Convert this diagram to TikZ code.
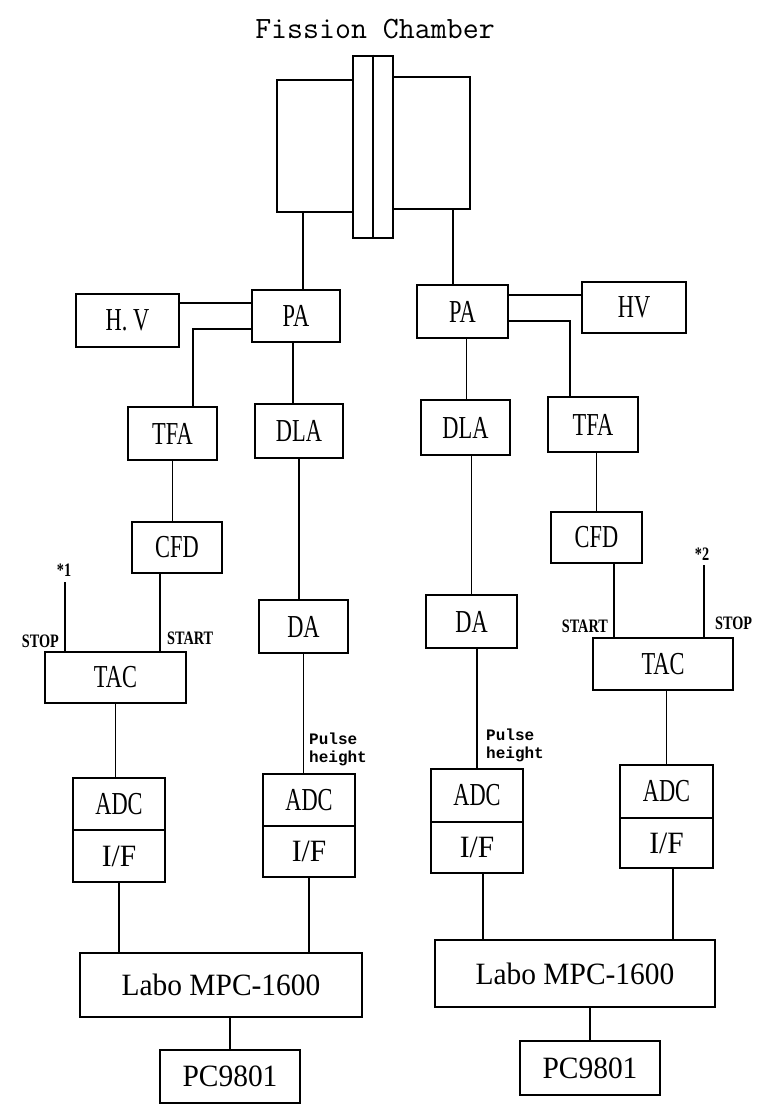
\documentclass[tikz,border=0pt]{standalone}
\usepackage{fontspec}
\setmainfont{Liberation Serif}
\newfontfamily\boxfnt[FakeStretch=0.7]{Liberation Serif}
\newfontfamily\widefnt[FakeStretch=0.95]{Liberation Serif}
\newfontfamily\smallfnt[FakeStretch=0.75]{Liberation Serif}
\newfontfamily\pulsefnt{Liberation Mono}
\begin{document}
\begin{tikzpicture}[x=1pt,y=-1pt,
  blk/.style={draw, line width=2.6pt, inner sep=0pt, fill=white,
    font={\boxfnt\fontsize{32}{34}\selectfont}},
  wide/.style={font={\widefnt\fontsize{31}{33}\selectfont}},
  bx/.style 2 args={minimum width=#1pt, minimum height=#2pt},
  conn/.style={line width=1.5pt},
  lbl/.style={inner sep=0pt, font={\smallfnt\bfseries\fontsize{19}{20}\selectfont}},
  plbl/.style={inner sep=0pt, align=left, font={\pulsefnt\bfseries\fontsize{16}{18}\selectfont}},
  ttl/.style={inner sep=0pt, font={\ttfamily\fontsize{31}{33}\selectfont}}
]
\useasboundingbox (0,0) rectangle (763,1106);

% title
\node[ttl] (title) at (375,29) {Fission Chamber};

% chamber
\node[blk, bx={76}{132}] (chL) at (315,146) {};
\node[blk, bx={78}{132}] (chR) at (431,143) {};
\node[blk, bx={40}{182}] (chC) at (373,147) {};
\draw[line width=2.6pt] (chC.north) -- (chC.south);

% left chain
\node[blk, bx={103}{53}] (hvL) at (127.5,320.5) {H. V};
\node[blk, bx={88}{52}] (paL) at (296,316) {PA};
\node[blk, bx={89}{53}] (tfaL) at (172.5,433.5) {TFA};
\node[blk, bx={88}{54}] (dlaL) at (299,431) {DLA};
\node[blk, bx={90}{51}] (cfdL) at (177,547.5) {CFD};
\node[blk, bx={89}{53}] (daL) at (303.5,626.5) {DA};
\node[blk, bx={141}{51}] (tacL) at (115.5,677.5) {TAC};
\node[blk, bx={92}{52}] (adc1) at (119,804) {ADC};
\node[blk, wide, bx={92}{52}] (if1) at (119,856) {I/F};
\node[blk, bx={92}{52}] (adc2) at (309,800) {ADC};
\node[blk, wide, bx={92}{51}] (if2) at (309,851.5) {I/F};
\node[blk, wide, bx={282}{64}] (laboL) at (221,985) {Labo MPC-1600};
\node[blk, wide, bx={140}{53}] (pcL) at (230,1076.5) {PC9801};

% right chain
\node[blk, bx={91}{53}] (paR) at (462.5,311.5) {PA};
\node[blk, bx={104}{51}] (hvR) at (634,307.5) {HV};
\node[blk, bx={89}{55}] (dlaR) at (465.5,427.5) {DLA};
\node[blk, bx={90}{55}] (tfaR) at (593,424.5) {TFA};
\node[blk, bx={91}{51}] (cfdR) at (596.5,537.5) {CFD};
\node[blk, bx={91}{53}] (daR) at (471.5,621.5) {DA};
\node[blk, bx={140}{52}] (tacR) at (663,664) {TAC};
\node[blk, bx={92}{53}] (adc3) at (477,795.5) {ADC};
\node[blk, wide, bx={92}{51}] (if3) at (477,847.5) {I/F};
\node[blk, bx={93}{53}] (adc4) at (666.5,791.5) {ADC};
\node[blk, wide, bx={93}{50}] (if4) at (666.5,843) {I/F};
\node[blk, wide, bx={280}{67}] (laboR) at (575,973.5) {Labo MPC-1600};
\node[blk, wide, bx={140}{54}] (pcR) at (590,1068) {PC9801};

% free ends
\coordinate (stop1) at (65,582);
\coordinate (stop2) at (704,565);

% left connectors
\draw[conn] ([xshift=7pt]paL.north) -- ([xshift=7pt]paL.north |- chL.south);
\draw[conn] ([yshift=13pt]paL.west) -- ([yshift=13pt]paL.west -| hvL.east);
\draw[conn] ([yshift=-13pt]paL.west) -| ([xshift=20.5pt]tfaL.north);
\draw[conn] ([xshift=-3pt]paL.south) -- ([xshift=-3pt]paL.south |- dlaL.north);
\draw[conn] (tfaL.south) -- (tfaL.south |- cfdL.north);
\draw[conn] ([xshift=-17pt]cfdL.south) -- ([xshift=-17pt]cfdL.south |- tacL.north);
\draw[conn] (stop1) -- (stop1 |- tacL.north);
\draw[conn] (dlaL.south) -- (dlaL.south |- daL.north);
\draw[conn] (daL.south) -- (daL.south |- adc2.north);
\draw[conn] (tacL.south) -- (tacL.south |- adc1.north);
\draw[conn] (if1.south) -- (if1.south |- laboL.north);
\draw[conn] (if2.south) -- (if2.south |- laboL.north);
\draw[conn] (pcL.north) -- (pcL.north |- laboL.south);

% right connectors
\draw[conn] ([xshift=-9.5pt]paR.north) -- ([xshift=-9.5pt]paR.north |- chR.south);
\draw[conn] ([yshift=16.5pt]paR.east) -- ([yshift=16.5pt]paR.east -| hvR.west);
\draw[conn] ([yshift=-9.5pt]paR.east) -| ([xshift=-23pt]tfaR.north);
\draw[conn] ([xshift=4pt]paR.south) -- ([xshift=4pt]paR.south |- dlaR.north);
\draw[conn] (daR.north) -- (daR.north |- dlaR.south);
\draw[conn] (adc3.north) -- (adc3.north |- daR.south);
\draw[conn] (cfdR.north) -- (cfdR.north |- tfaR.south);
\draw[conn] ([xshift=17.5pt]cfdR.south) -- ([xshift=17.5pt]cfdR.south |- tacR.north);
\draw[conn] (stop2) -- (stop2 |- tacR.north);
\draw[conn] (adc4.north) -- (adc4.north |- tacR.south);
\draw[conn] ([xshift=6pt]if3.south) -- ([xshift=6pt]if3.south |- laboR.north);
\draw[conn] ([xshift=6.5pt]if4.south) -- ([xshift=6.5pt]if4.south |- laboR.north);
\draw[conn] (pcR.north) -- (pcR.north |- laboR.south);

% labels
\node[lbl, anchor=south] (star1) at (64,577) {*1};
\node[lbl, anchor=south east] (stopL) at (59,648) {STOP};
\node[lbl, anchor=south west] (startL) at (167,645) {START};
\node[lbl, anchor=south] (star2) at (702,561) {*2};
\node[lbl, anchor=south east] (startR) at (608,633) {START};
\node[lbl, anchor=south west] (stopR) at (715,630) {STOP};
\node[plbl, anchor=south west] (phL) at (309,766) {Pulse\\height};
\node[plbl, anchor=south west] (phR) at (486,762) {Pulse\\height};
\end{tikzpicture}
\end{document}
